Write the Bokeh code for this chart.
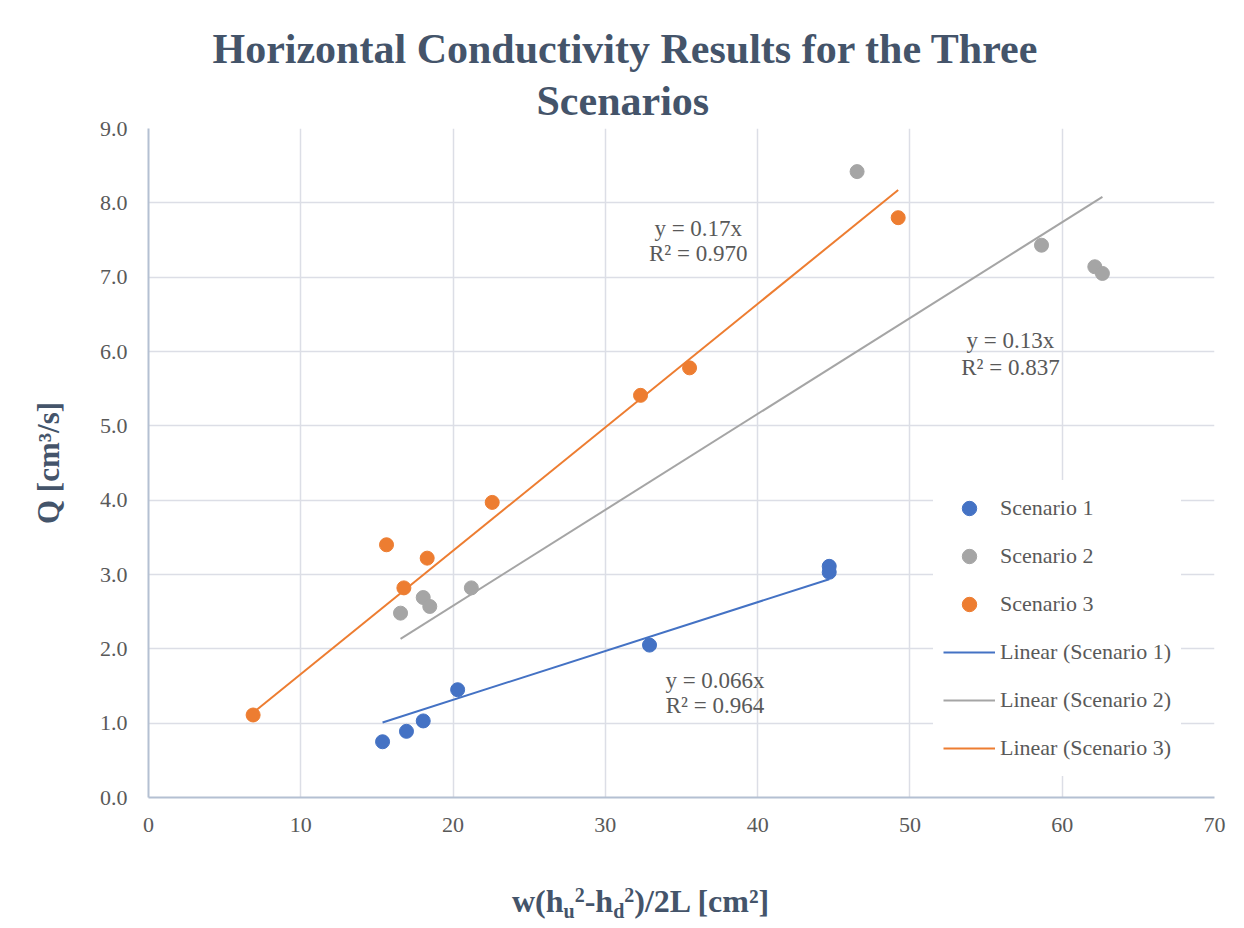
import math
from bokeh.plotting import figure
from bokeh.layouts import column
from bokeh.models import (Range1d, FixedTicker, NumeralTickFormatter, Label, Title, Div,
                          Legend, LegendItem, ColumnDataSource)
from bokeh.embed import file_html
from bokeh.resources import INLINE

# ---------------- data ----------------
s1_x = [15.37, 16.94, 18.04, 20.3, 32.9, 44.7, 44.7]
s1_y = [0.75, 0.89, 1.03, 1.45, 2.05, 3.11, 3.03]
s2_x = [16.55, 18.04, 18.47, 21.2, 46.53, 58.64, 62.14, 62.64]
s2_y = [2.48, 2.69, 2.57, 2.82, 8.42, 7.43, 7.14, 7.05]
s3_x = [6.87, 15.63, 16.77, 18.3, 22.57, 32.31, 35.53, 49.23]
s3_y = [1.11, 3.40, 2.82, 3.22, 3.97, 5.41, 5.78, 7.80]
series_names = ["Scenario 1", "Scenario 2", "Scenario 3"]
trend_slopes = [0.0657, 0.129, 0.166]
eq_texts = ["y = 0.066x", "y = 0.13x", "y = 0.17x"]
r2_texts = ["R² = 0.964", "R² = 0.837", "R² = 0.970"]
x_ticks = [0, 10, 20, 30, 40, 50, 60, 70]
y_ticks = [0, 1, 2, 3, 4, 5, 6, 7, 8, 9]
title_lines = ["Horizontal Conductivity Results for the Three", "Scenarios"]
y_label = "Q [cm³/s]"
x_label_html = ("w(h<span style='font-size:20px;vertical-align:-6px;line-height:0'>u</span>"
                "<span style='font-size:20px;vertical-align:10px;line-height:0'>2</span>"
                "-h<span style='font-size:20px;vertical-align:-6px;line-height:0'>d</span>"
                "<span style='font-size:20px;vertical-align:10px;line-height:0'>2</span>"
                ")/2L [cm²]")

colors = ["#4472C4", "#A5A5A5", "#ED7D31"]
SERIF = "Liberation Serif"
TXT = "#595959"
TITLE_C = "#44546A"

p = figure(frame_width=1066, frame_height=669,
           min_border_left=148, min_border_right=22,
           min_border_top=128, min_border_bottom=50,
           x_range=Range1d(0, 70), y_range=Range1d(0, 9),
           output_backend="svg", toolbar_location=None,
           background_fill_color="white", border_fill_color="white")
p.outline_line_color = None

# title (two lines; the first added sits closest to the frame)
p.add_layout(Title(text=title_lines[1], align="left", offset=388, standoff=9,
                   text_font=SERIF, text_font_size="42px", text_font_style="bold",
                   text_color=TITLE_C), "above")
p.add_layout(Title(text=title_lines[0], align="left", offset=64, standoff=0,
                   text_font=SERIF, text_font_size="42px", text_font_style="bold",
                   text_color=TITLE_C), "above")

# axes
for ax in (p.xaxis[0], p.yaxis[0]):
    ax.axis_line_color = "#B4C0D2"
    ax.axis_line_width = 2
    ax.major_tick_line_color = None
    ax.minor_tick_line_color = None
    ax.major_label_text_font = SERIF
    ax.major_label_text_font_size = "22px"
    ax.major_label_text_color = TXT
p.xaxis.ticker = FixedTicker(ticks=x_ticks)
p.yaxis.ticker = FixedTicker(ticks=y_ticks)
p.yaxis.formatter = NumeralTickFormatter(format="0.0")
p.xaxis.major_label_standoff = 14
p.yaxis.major_label_standoff = 15

p.yaxis.axis_label = y_label
p.yaxis.axis_label_text_font = SERIF
p.yaxis.axis_label_text_font_style = "bold"
p.yaxis.axis_label_text_font_size = "31px"
p.yaxis.axis_label_text_color = TITLE_C
p.yaxis.axis_label_standoff = 31

p.grid.grid_line_color = "#DCDEE6"
p.grid.grid_line_width = 1.5

# trend lines and points
xs_all = [s1_x, s2_x, s3_x]
ys_all = [s1_y, s2_y, s3_y]
line_rs = []
scat_rs = []
for i in range(3):
    x0, x1 = min(xs_all[i]), max(xs_all[i])
    src = ColumnDataSource(dict(x=[x0, x1], y=[trend_slopes[i] * x0, trend_slopes[i] * x1]))
    line_rs.append(p.line("x", "y", source=src, line_color=colors[i], line_width=2))
for i in range(3):
    src = ColumnDataSource(dict(x=xs_all[i], y=ys_all[i]))
    scat_rs.append(p.scatter("x", "y", source=src, size=14, fill_color=colors[i],
                             line_color=colors[i]))

items = [LegendItem(label=series_names[i], renderers=[scat_rs[i]]) for i in range(3)]
items += [LegendItem(label="Linear (%s)" % series_names[i], renderers=[line_rs[i]]) for i in range(3)]
legend = Legend(items=items, location=(785, 21), padding=10, margin=0,
                glyph_width=52, glyph_height=36, label_height=24, spacing=12,
                label_standoff=5, label_text_font=SERIF, label_text_font_size="22px",
                label_text_color=TXT, border_line_alpha=0, background_fill_color="white",
                background_fill_alpha=1.0)
p.add_layout(legend)

# trend-line equation labels
eq_pos = [(37.2, 1.57, 1.24), (56.6, 6.15, 5.79), (36.1, 7.66, 7.32)]
for i in range(3):
    ex, ey1, ey2 = eq_pos[i]
    for t, yy in ((eq_texts[i], ey1), (r2_texts[i], ey2)):
        p.add_layout(Label(x=ex, y=yy, text=t, text_align="center", text_baseline="middle",
                           text_font=SERIF, text_font_size="23px", text_color=TXT))

# x-axis label (needs sub/superscripts) as a Div under the figure
xdiv = Div(text=("<div style=\"font-family:'Liberation Serif';font-weight:bold;font-size:32px;"
                 "color:%s;line-height:36px;white-space:nowrap\">%s</div>"
                 % (TITLE_C, x_label_html)),
           width=300, height=40, margin=(36, 0, 0, 512))

layout = column(p, xdiv, spacing=0)
open("out.html", "w").write(file_html(layout, INLINE))
